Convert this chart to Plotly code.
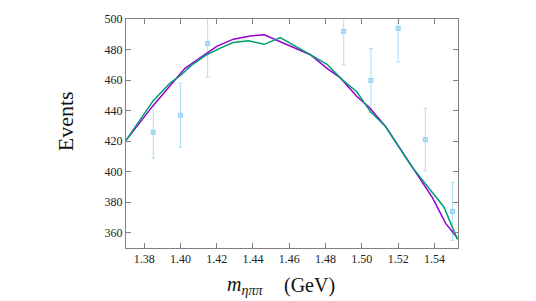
import plotly.graph_objects as go

# data points with errors
pts_x = [1.385, 1.400, 1.415, 1.490, 1.505, 1.520, 1.535, 1.550]
pts_y = [425.8, 437.0, 484.0, 491.9, 459.7, 493.8, 421.0, 374.0]
pts_err = [17.0, 21.0, 22.0, 22.0, 21.0, 22.0, 20.5, 19.0]

# purple fit curve
purple_x = [1.370, 1.385, 1.4025, 1.420, 1.4292, 1.4385, 1.4462, 1.455, 1.4716, 1.4808,
            1.4882, 1.4974, 1.5039, 1.5131, 1.5269, 1.5389, 1.5462, 1.5527]
purple_y = [420.5, 443.4, 467.7, 482.1, 486.8, 488.9, 489.7, 485.1, 476.6, 467.7,
            461.4, 449.1, 442.4, 429.6, 404.3, 383.0, 366.1, 356.6]

# green fit curve
green_x = [1.370, 1.385, 1.3944, 1.400, 1.4062, 1.4145, 1.4217, 1.429, 1.4375, 1.4462,
           1.455, 1.4605, 1.4716, 1.4808, 1.4891, 1.4971, 1.5048, 1.5131, 1.5269,
           1.5453, 1.5527]
green_y = [420.5, 446.5, 458.2, 463.0, 469.8, 476.6, 480.8, 484.6, 485.7, 483.4,
           487.8, 484.2, 476.6, 470.3, 460.3, 452.5, 439.2, 429.6, 404.3,
           376.7, 355.6]

x_ticks = [1.38, 1.40, 1.42, 1.44, 1.46, 1.48, 1.50, 1.52, 1.54]
y_ticks = [360, 380, 400, 420, 440, 460, 480, 500]

serif = "Liberation Serif"

fig = go.Figure()
fig.add_trace(go.Scatter(
    x=pts_x, y=pts_y, mode="markers",
    marker=dict(symbol="square-x-open", size=4, color="#8fd0ef", line=dict(width=1, color="#8fd0ef")),
    error_y=dict(type="data", array=pts_err, color="#addff4", thickness=1, width=2),
    showlegend=False, cliponaxis=True))
fig.add_trace(go.Scatter(x=purple_x, y=purple_y, mode="lines",
                         line=dict(color="#9400d3", width=1.5), showlegend=False))
fig.add_trace(go.Scatter(x=green_x, y=green_y, mode="lines",
                         line=dict(color="#009e73", width=1.5), showlegend=False))

axis_common = dict(showgrid=False, zeroline=False, showline=True, linecolor="#808080",
                   linewidth=1, mirror="allticks", ticks="inside", ticklen=5,
                   tickcolor="#808080", tickfont=dict(family=serif, size=12, color="#222"))

fig.update_layout(
    width=536, height=301,
    margin=dict(l=126, r=78, t=13, b=53),
    plot_bgcolor="white", paper_bgcolor="white",
    xaxis=dict(range=[1.370, 1.553], tickvals=x_ticks,
               ticktext=[f"{v:.2f}" for v in x_ticks], **axis_common),
    yaxis=dict(range=[350, 500], tickvals=y_ticks,
               ticktext=[str(v) for v in y_ticks], **axis_common),
    annotations=[
        dict(text="Events", xref="paper", yref="paper", x=-0.184, y=0.553,
             xanchor="center", yanchor="middle",
             textangle=-90, showarrow=False,
             font=dict(family=serif, size=22, color="#111")),
        dict(text="<i>m</i><sub><i>ηππ</i></sub>", xref="paper", yref="paper",
             x=0.358, y=-0.165, xanchor="center", yanchor="middle", showarrow=False,
             font=dict(family=serif, size=20, color="#111")),
        dict(text="(GeV)", xref="paper", yref="paper",
             x=0.553, y=-0.165, xanchor="center", yanchor="middle", showarrow=False,
             font=dict(family=serif, size=20, color="#111")),
    ],
)

fig.write_html("out.html", config={"displayModeBar": False},
               post_script="document.body.style.margin='0';document.body.style.padding='0';")
